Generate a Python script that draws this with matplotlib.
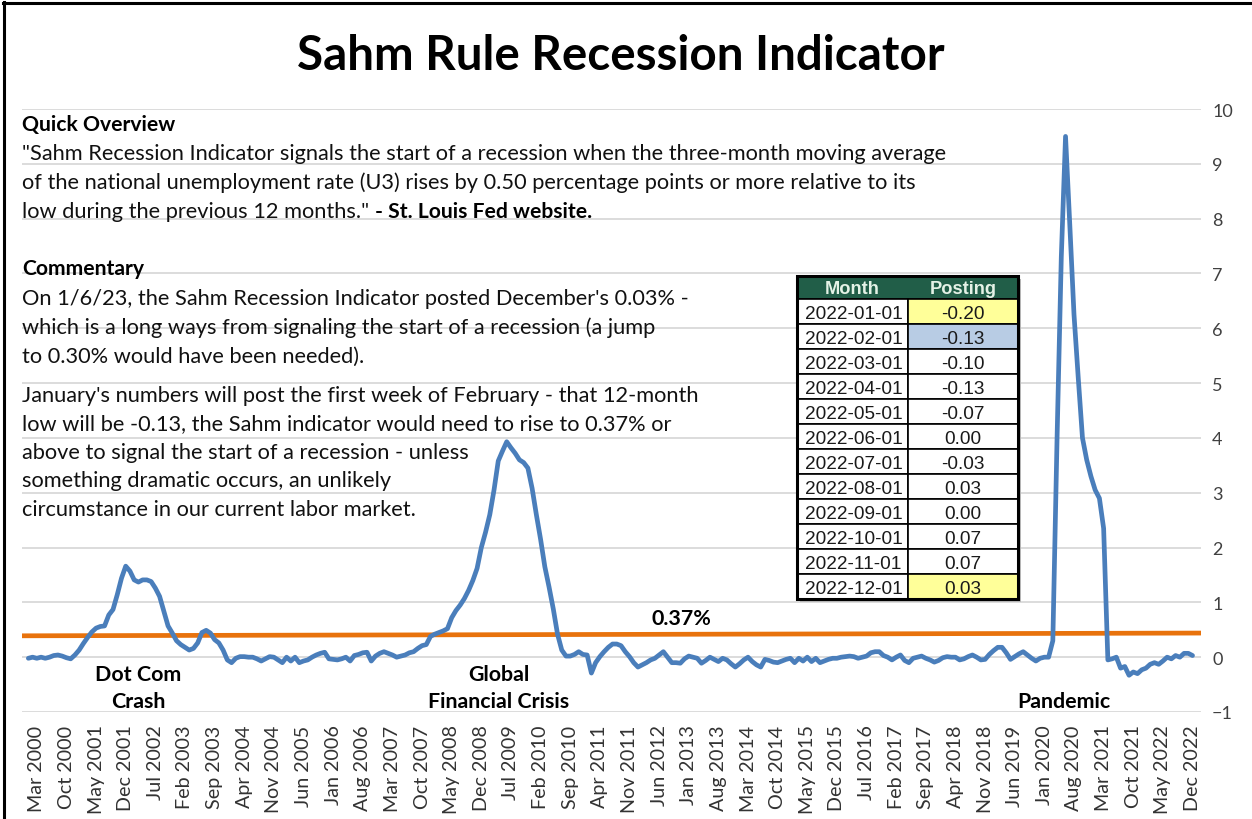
import matplotlib
matplotlib.use("Agg")
import matplotlib.pyplot as plt
from matplotlib.patches import Rectangle
import numpy as np

# ---------------- data (monthly Sahm indicator, Jan 2000 - Dec 2022) ----------------
sahm_2000 = [-0.02, 0.00, -0.02, 0.00, -0.02, 0.00, 0.03, 0.04, 0.02, -0.01, -0.03, 0.04]
sahm_2001 = [0.13, 0.25, 0.36, 0.46, 0.53, 0.56, 0.57, 0.77, 0.87, 1.14, 1.44, 1.66]
sahm_2002 = [1.57, 1.41, 1.37, 1.41, 1.41, 1.38, 1.26, 1.11, 0.84, 0.57, 0.44, 0.30]
sahm_2003 = [0.23, 0.18, 0.13, 0.16, 0.26, 0.45, 0.49, 0.44, 0.32, 0.26, 0.13, -0.05]
sahm_2004 = [-0.10, -0.02, 0.01, 0.01, 0.00, 0.00, -0.03, -0.07, -0.03, 0.01, 0.00, -0.05]
sahm_2005 = [-0.10, 0.00, -0.07, 0.00, -0.10, -0.07, -0.05, 0.00, 0.04, 0.07, 0.09, -0.03]
sahm_2006 = [-0.04, -0.05, -0.03, 0.00, -0.07, 0.03, 0.05, 0.08, 0.09, -0.07, 0.02, 0.07]
sahm_2007 = [0.10, 0.07, 0.04, 0.00, 0.02, 0.04, 0.08, 0.10, 0.16, 0.21, 0.23, 0.38]
sahm_2008 = [0.42, 0.45, 0.48, 0.52, 0.72, 0.85, 0.95, 1.07, 1.22, 1.40, 1.62, 2.00]
sahm_2009 = [2.28, 2.60, 3.05, 3.58, 3.76, 3.93, 3.82, 3.72, 3.60, 3.55, 3.45, 3.08]
sahm_2010 = [2.60, 2.15, 1.65, 1.28, 0.88, 0.42, 0.13, 0.02, 0.02, 0.05, 0.10, 0.05]
sahm_2011 = [0.04, -0.29, -0.10, 0.01, 0.10, 0.18, 0.24, 0.24, 0.21, 0.10, 0.01, -0.10]
sahm_2012 = [-0.18, -0.14, -0.10, -0.05, -0.02, 0.04, 0.10, 0.00, -0.10, -0.10, -0.11, -0.03]
sahm_2013 = [0.02, 0.00, -0.02, -0.11, -0.06, 0.00, -0.04, -0.08, -0.02, -0.05, -0.12, -0.18]
sahm_2014 = [-0.12, -0.05, 0.00, -0.08, -0.14, -0.18, -0.04, -0.06, -0.09, -0.10, -0.07, -0.04]
sahm_2015 = [-0.02, -0.10, -0.02, -0.07, 0.00, -0.08, -0.02, -0.10, -0.07, -0.04, -0.02, -0.02]
sahm_2016 = [0.00, 0.01, 0.02, 0.01, -0.02, 0.00, 0.02, 0.08, 0.10, 0.10, 0.03, 0.00]
sahm_2017 = [-0.05, 0.00, 0.04, -0.06, -0.10, -0.02, 0.00, 0.02, -0.02, -0.05, -0.09, -0.06]
sahm_2018 = [-0.01, 0.01, 0.00, 0.00, -0.05, -0.03, 0.01, 0.04, 0.00, -0.05, -0.04, 0.05]
sahm_2019 = [0.12, 0.18, 0.18, 0.08, -0.04, 0.01, 0.06, 0.10, 0.04, -0.02, -0.07, -0.02]
sahm_2020 = [0.00, 0.00, 0.30, 4.00, 7.30, 9.50, 7.90, 6.25, 5.10, 4.00, 3.60, 3.30]
sahm_2021 = [3.05, 2.90, 2.35, -0.05, -0.03, 0.00, -0.20, -0.17, -0.33, -0.27, -0.30, -0.23]
sahm_2022 = [-0.20, -0.13, -0.10, -0.13, -0.07, 0.00, -0.03, 0.03, 0.00, 0.07, 0.07, 0.03]

first_year = 2000
month_names = ["Jan", "Feb", "Mar", "Apr", "May", "Jun",
               "Jul", "Aug", "Sep", "Oct", "Nov", "Dec"]
tick_first_month = 2      # Mar 2000
tick_step = 7             # every 7 months

threshold_ends = [0.39, 0.44]
threshold_label = "0.37%"

table_months = ["2022-01-01", "2022-02-01", "2022-03-01", "2022-04-01",
                "2022-05-01", "2022-06-01", "2022-07-01", "2022-08-01",
                "2022-09-01", "2022-10-01", "2022-11-01", "2022-12-01"]
table_postings = [-0.20, -0.13, -0.10, -0.13, -0.07, 0.00,
                  -0.03, 0.03, 0.00, 0.07, 0.07, 0.03]

title = "Sahm Rule Recession Indicator"
overview_head = "Quick Overview"
overview_lines = [
    "\"Sahm Recession Indicator signals the start of a recession when the three-month moving average",
    "of the national unemployment rate (U3) rises by 0.50 percentage points or more relative to its",
]
overview_last = "low during the previous 12 months.\""
overview_source = "- St. Louis Fed website."
comment_head = "Commentary"
comment_para1 = [
    "On 1/6/23, the Sahm Recession Indicator posted December's 0.03% -",
    "which is a long ways from signaling the start of a recession (a jump",
    "to 0.30% would have been needed).",
]
comment_para2 = [
    "January's numbers will post the first week of February - that 12-month",
    "low will be -0.13, the Sahm indicator would need to rise to 0.37% or",
    "above to signal the start of a recession - unless",
    "something dramatic occurs, an unlikely",
    "circumstance in our current labor market.",
]

# ---------------- figure ----------------
W, H = 1252, 820
FONT = ["Lato", "DejaVu Sans"]
TFONT = ["Liberation Sans", "DejaVu Sans"]
plt.rcParams["font.family"] = FONT

fig = plt.figure(figsize=(W / 100, H / 100), dpi=100)
fig.patch.set_facecolor("white")
renderer = fig.canvas.get_renderer()

sahm = np.array(sahm_2000 + sahm_2001 + sahm_2002 + sahm_2003 + sahm_2004 +
                sahm_2005 + sahm_2006 + sahm_2007 + sahm_2008 + sahm_2009 +
                sahm_2010 + sahm_2011 + sahm_2012 + sahm_2013 + sahm_2014 +
                sahm_2015 + sahm_2016 + sahm_2017 + sahm_2018 + sahm_2019 +
                sahm_2020 + sahm_2021 + sahm_2022)
idx = np.arange(len(sahm))

ax = fig.add_axes([22 / W, 1 - 713 / H, (1201 - 22) / W, (713 - 110) / H])
xl = (-1.5, len(sahm) + 1)
ax.set_xlim(*xl)
ax.set_ylim(-1, 10)
ax.set_yticks(range(-1, 11))
ax.grid(axis="y", color="#D9D9D9", lw=1.3)
ax.set_axisbelow(True)
for s in ax.spines.values():
    s.set_visible(False)
ax.yaxis.tick_right()
ax.tick_params(axis="y", length=0, pad=8, labelsize=13, labelcolor="#404040")

tick_pos = list(range(tick_first_month, len(sahm), tick_step))
tick_lab = [f"{month_names[i % 12]} {first_year + i // 12}" for i in tick_pos]
ax.set_xticks(tick_pos)
ax.set_xticklabels(tick_lab, rotation=90, fontsize=13, color="#333333")
ax.tick_params(axis="x", length=0, pad=9)

ax.plot(xl, threshold_ends, color="#E8720C", lw=3.4, solid_capstyle="butt", zorder=3)
ax.plot(idx, sahm, color="#4A7EBB", lw=3.4, solid_joinstyle="round",
        solid_capstyle="round", zorder=4)

# fit x tick label size to the reference length (~86 px for "Mar 2000")
fig.canvas.draw()
lab0 = ax.get_xticklabels()[0]
hpx = lab0.get_window_extent(renderer).height
for lb in ax.get_xticklabels():
    lb.set_fontsize(13 * 86 / hpx)

# ---------------- overlay for text and table ----------------
ov = fig.add_axes([0, 0, 1, 1], zorder=5)
ov.set_xlim(0, W)
ov.set_ylim(H, 0)
ov.axis("off")
ov.patch.set_alpha(0)


def measure(s, size, **kw):
    t = ov.text(0, 0, s, fontsize=size, **kw)
    w = t.get_window_extent(renderer).width
    t.remove()
    return w


def fit_size(s, target, size0=14, **kw):
    return size0 * target / measure(s, size0, **kw)


# title
ts = fit_size(title, 647, 30, weight="bold")
ov.text(621, 70, title, ha="center", va="baseline", fontsize=ts,
        weight="bold", color="black")

# body text
bs = fit_size(overview_lines[0], 928, 14)
hs = fit_size(overview_head, 154, 14, weight="bold")
ov.text(22, 131, overview_head, fontsize=hs, weight="bold", va="baseline")
for k, line in enumerate(overview_lines):
    ov.text(22, 160 + 29 * k, line, fontsize=bs, va="baseline", color="#111111")
t_last = ov.text(22, 218, overview_last, fontsize=bs, va="baseline", color="#111111")
sp = measure("a a", bs) - measure("aa", bs)
x_end = t_last.get_window_extent(renderer).x1 + sp
ov.text(x_end, 218, overview_source, fontsize=hs, weight="bold", va="baseline")

ov.text(22, 275, comment_head, fontsize=hs, weight="bold", va="baseline")
for k, line in enumerate(comment_para1):
    ov.text(22, 305 + 28.7 * k, line, fontsize=bs, va="baseline", color="#111111")
for k, line in enumerate(comment_para2):
    ov.text(22, 402 + 28.5 * k, line, fontsize=bs, va="baseline", color="#111111")

# event annotations
es = fit_size("Financial Crisis", 142, 14, weight="bold")
ov.text(138, 681, "Dot Com", ha="center", va="baseline", fontsize=es, weight="bold")
ov.text(138, 708, "Crash", ha="center", va="baseline", fontsize=es, weight="bold")
ov.text(499, 681, "Global", ha="center", va="baseline", fontsize=es, weight="bold")
ov.text(499, 708, "Financial Crisis", ha="center", va="baseline", fontsize=es, weight="bold")
ov.text(1064, 708, "Pandemic", ha="center", va="baseline", fontsize=es, weight="bold")
ov.text(681, 625, threshold_label, ha="center", va="baseline", fontsize=es, weight="bold")

# ---------------- table ----------------
tx0, tx1, tx2 = 797, 908, 1018
ty0, hdr_h, row_h = 277, 23, 25
ov.add_patch(Rectangle((tx0 + 3, ty0 + 3), tx2 - tx0, hdr_h + row_h * 12,
                       facecolor="#BBBBBB", edgecolor="none", zorder=1))
ov.add_patch(Rectangle((tx0, ty0), tx2 - tx0, hdr_h, facecolor="#215E48",
                       edgecolor="black", lw=1.2, zorder=2))
cell_fs = fit_size(table_months[0], 97, 13, family=TFONT)
head_fs = fit_size("Posting", 67, 13, family=TFONT, weight="bold")
ov.text((tx0 + tx1) / 2, ty0 + hdr_h / 2 + 6, "Month", ha="center", va="baseline",
        fontsize=head_fs, weight="bold", family=TFONT, color="#E4F2E6", zorder=4)
ov.text((tx1 + tx2) / 2, ty0 + hdr_h / 2 + 6, "Posting", ha="center", va="baseline",
        fontsize=head_fs, weight="bold", family=TFONT, color="#E4F2E6", zorder=4)
highlight = {0: "#FFFF99", 1: "#B8CCE4", 11: "#FFFF99"}
for r, (m, v) in enumerate(zip(table_months, table_postings)):
    y = ty0 + hdr_h + r * row_h
    ov.add_patch(Rectangle((tx0, y), tx1 - tx0, row_h, facecolor="white",
                           edgecolor="black", lw=1.2, zorder=2))
    ov.add_patch(Rectangle((tx1, y), tx2 - tx1, row_h,
                           facecolor=highlight.get(r, "white"),
                           edgecolor="black", lw=1.2, zorder=2))
    ov.text((tx0 + tx1) / 2 + 1, y + row_h / 2 + 6.5, m, ha="center", va="baseline",
            fontsize=cell_fs, family=TFONT, color="#1a1a1a", zorder=4)
    ov.text((tx1 + tx2) / 2, y + row_h / 2 + 6.5, f"{v:.2f}", ha="center",
            va="baseline", fontsize=cell_fs, family=TFONT, color="#1a1a1a", zorder=4)
ov.add_patch(Rectangle((tx0, ty0), tx2 - tx0, hdr_h + row_h * 12, facecolor="none",
                       edgecolor="black", lw=2.2, zorder=3))

# outer frame (left and top edges)
ov.plot([4, 4], [3, H], color="black", lw=2.2)
ov.plot([3, W], [4, 4], color="black", lw=2.2)

fig.savefig("out.png", dpi=100, facecolor="white")
